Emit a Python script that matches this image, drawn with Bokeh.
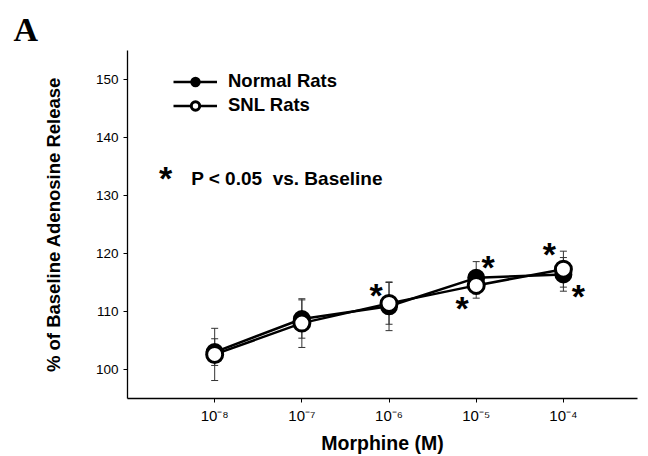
from bokeh.plotting import figure
from bokeh.models import (ColumnDataSource, Whisker, TeeHead, Label, Legend,
                          LegendItem, FixedTicker, Range1d)
from bokeh.core.properties import value
from bokeh.embed import file_html
from bokeh.resources import INLINE

# ---------------- data ----------------
dose_exponent = [-8, -7, -6, -5, -4]
dose_labels = ["10⁻⁸", "10⁻⁷", "10⁻⁶", "10⁻⁵", "10⁻⁴"]
normal_mean = [103.0, 108.7, 110.9, 115.8, 116.4]
normal_sem = [2.3, 3.3, 4.2, 2.8, 2.9]
snl_mean = [102.6, 108.0, 111.4, 114.5, 117.3]
snl_sem = [4.5, 4.2, 3.6, 2.2, 3.1]
y_ticks = [100, 110, 120, 130, 140, 150]

# significance stars, attached to (series, dose index)
star_series = ["snl", "normal", "snl", "snl", "normal"]
star_index = [2, 3, 3, 4, 4]

# ---------------- layout / style ----------------
W, H = 648, 456
B_LEFT, B_RIGHT, B_TOP, B_BOTTOM = 127, 11, 50, 58
FRAME_H = H - B_TOP - B_BOTTOM
FONT = "Liberation Sans"
STAR_DX = [-13, 12, -14, -14, 15]
STAR_DY = [-11, -14, 20, -18, 19]
STAR_SIZE = "34px"
STAR_MID = 3

p = figure(width=W, height=H, x_range=Range1d(-9, -3.15), y_range=Range1d(95, 155),
           min_border_left=B_LEFT, min_border_right=B_RIGHT,
           min_border_top=B_TOP, min_border_bottom=B_BOTTOM,
           output_backend="svg", toolbar_location=None)
p.outline_line_color = None
p.xgrid.visible = False
p.ygrid.visible = False
p.background_fill_color = "white"
p.border_fill_color = "white"

p.title.text = "A"
p.title.text_font = "Liberation Serif"
p.title.text_font_style = "bold"
p.title.text_font_size = "34px"
p.title.text_color = "black"
p.title.align = "left"
p.title.vertical_align = "middle"
p.title.offset = -114
p.title.standoff = 4

for ax in (p.xaxis[0], p.yaxis[0]):
    ax.axis_line_color = "black"
    ax.axis_line_width = 1.3
    ax.major_tick_line_color = "black"
    ax.major_tick_out = 4
    ax.major_tick_in = 0
    ax.minor_tick_line_color = None
    ax.major_label_text_font = FONT
    ax.major_label_text_color = "black"
    ax.axis_label_text_font = FONT
    ax.axis_label_text_font_style = "bold"
    ax.axis_label_text_color = "black"

p.xaxis.ticker = FixedTicker(ticks=dose_exponent)
p.xaxis.major_label_overrides = {d: l for d, l in zip(dose_exponent, dose_labels)}
p.xaxis.major_label_text_font_size = "15px"
p.xaxis.major_label_standoff = 4
p.xaxis.axis_label = "Morphine (M)"
p.xaxis.axis_label_text_font_size = "19.5px"
p.xaxis.axis_label_standoff = 5

p.yaxis.ticker = FixedTicker(ticks=y_ticks)
p.yaxis.major_label_text_font_size = "13.5px"
p.yaxis.major_label_standoff = 5
p.yaxis.axis_label = "% of Baseline Adenosine Release"
p.yaxis.axis_label_text_font_size = "18.5px"
p.yaxis.axis_label_standoff = 29

# ---------------- error bars ----------------
def whisker(mean, sem):
    src = ColumnDataSource(dict(x=dose_exponent,
                                lo=[m - s for m, s in zip(mean, sem)],
                                hi=[m + s for m, s in zip(mean, sem)]))
    w = Whisker(base="x", lower="lo", upper="hi", source=src,
                line_color="#333333", line_width=1,
                upper_head=TeeHead(size=7, line_color="#333333", line_width=1),
                lower_head=TeeHead(size=7, line_color="#333333", line_width=1))
    p.add_layout(w)

whisker(normal_mean, normal_sem)
whisker(snl_mean, snl_sem)

# ---------------- series ----------------
src_n = ColumnDataSource(dict(x=dose_exponent, y=normal_mean))
src_s = ColumnDataSource(dict(x=dose_exponent, y=snl_mean))

ln_n = p.line("x", "y", source=src_n, line_color="black", line_width=2.5)
ln_s = p.line("x", "y", source=src_s, line_color="black", line_width=2.5)
mk_n = p.scatter("x", "y", source=src_n, size=16, marker="circle",
                 fill_color="black", line_color="black", line_width=2)
mk_s = p.scatter("x", "y", source=src_s, size=16, marker="circle",
                 fill_color="white", line_color="black", line_width=3)

# ---------------- stars ----------------
means = {"normal": normal_mean, "snl": snl_mean}
star_src = ColumnDataSource(dict(
    x=[dose_exponent[i] for i in star_index],
    y=[means[s][i] for s, i in zip(star_series, star_index)],
    dx=STAR_DX,
    dy=[d + STAR_MID for d in STAR_DY],
    t=["*"] * len(star_index)))
p.text("x", "y", text="t", source=star_src, x_offset="dx", y_offset="dy",
       text_font=value(FONT), text_font_style="bold", text_font_size=STAR_SIZE,
       text_align="center", text_baseline="middle", text_color="black")

# ---------------- legend ----------------
legend = Legend(items=[LegendItem(label="Normal Rats", renderers=[ln_n, mk_n]),
                       LegendItem(label="SNL Rats", renderers=[ln_s, mk_s])],
                location=(46, FRAME_H - 22 - 44),
                label_text_font=FONT, label_text_font_style="bold",
                label_text_font_size="18.5px", label_text_color="black",
                glyph_width=44, glyph_height=21, label_height=21,
                label_standoff=11, spacing=2, padding=0, margin=0,
                border_line_color=None, background_fill_alpha=0)
p.add_layout(legend)

# ---------------- annotations ----------------
p.add_layout(Label(x=-8.27, y=132.9,
                   text="P < 0.05\u00a0 vs. Baseline", text_font=FONT,
                   text_font_style="bold", text_font_size="19px",
                   text_color="black", text_baseline="alphabetic"))
p.add_layout(Label(x=-8.564, y=132.98, y_offset=0,
                   text="*", text_font=FONT, text_font_style="bold",
                   text_font_size=STAR_SIZE, text_align="center",
                   text_baseline="middle", text_color="black"))

open("out.html", "w").write(file_html(p, INLINE))
